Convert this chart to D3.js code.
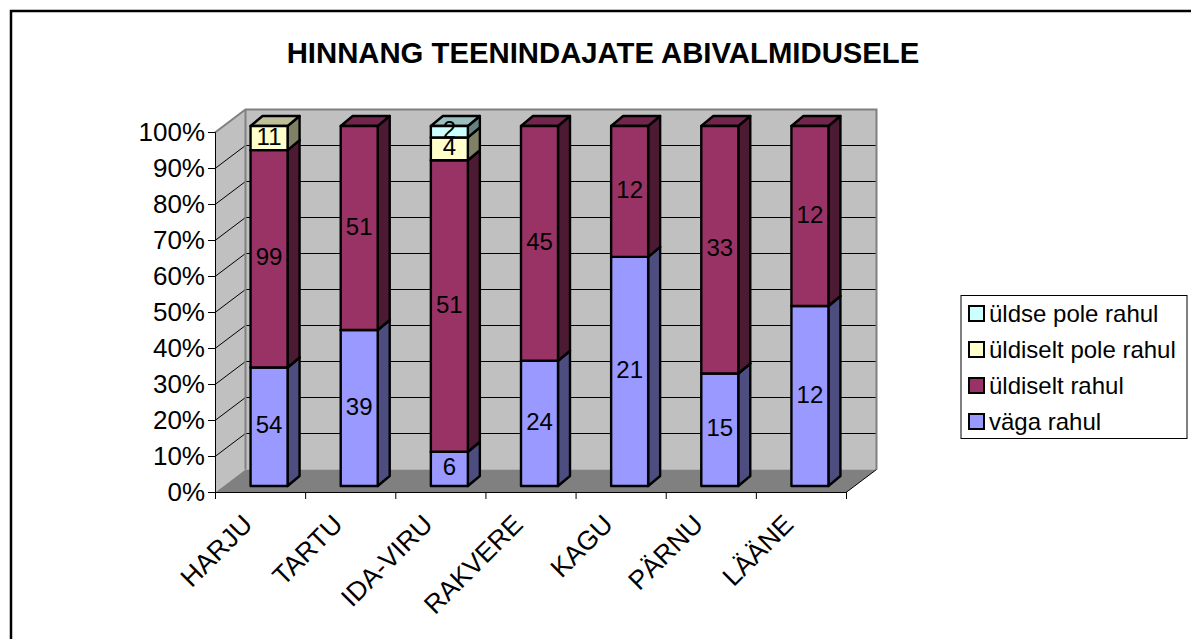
<!DOCTYPE html>
<html lang='en'>
<head>
  <meta charset='UTF-8'>
  <title>Hinnang teenindajate abivalmidusele</title>
  <script src='https://d3js.org/d3.v7.min.js'></script>
  <style>
    body { margin: 0; background: #fff; }
    svg { display: block; }
    text { font-family: 'Liberation Sans', Arial, sans-serif; fill: #000; }
  </style>
</head>
<body>
  <svg width='1191' height='639'></svg>

  <script>
    var regions = ['HARJU', 'TARTU', 'IDA-VIRU', 'RAKVERE', 'KAGU', 'PÄRNU', 'LÄÄNE'];
    var seriesNames = ['väga rahul', 'üldiselt rahul', 'üldiselt pole rahul', 'üldse pole rahul'];
    var vagaRahul = [54, 39, 6, 24, 21, 15, 12];
    var uldiseltRahul = [99, 51, 51, 45, 12, 33, 12];
    var uldiseltPole = [11, 0, 4, 0, 0, 0, 0];
    var uldsePole = [0, 0, 2, 0, 0, 0, 0];
    var yTicks = [0, .1, .2, .3, .4, .5, .6, .7, .8, .9, 1];

    var front = ['#9999ff', '#993366', '#ffffcc', '#ccffff'];
    var side = ['#4d4d80', '#4d1a33', '#808066', '#668080'];
    var top_ = ['#7373bf', '#73264d', '#bfbf99', '#99bfbf'];

    var svg = d3.select('svg');

    var table = regions.map((r, i) => ({
      region: r,
      [seriesNames[0]]: vagaRahul[i],
      [seriesNames[1]]: uldiseltRahul[i],
      [seriesNames[2]]: uldiseltPole[i],
      [seriesNames[3]]: uldsePole[i],
    }));
    var stacked = d3.stack().keys(seriesNames).offset(d3.stackOffsetExpand)(table);

    var x = d3.scaleBand().domain(regions).range([215, 846]);
    var y = d3.scaleLinear().domain([0, 1]).range([492, 132]);

    // fake 3d depth of the box and of the bars inside it
    var wallDx = 30.5, wallDy = -23;
    var barDx = 12, barDy = -10, barOffX = 9, barOffY = -6, barW = 37;

    // outer frame, only top and left are visible
    svg.append('path')
      .attr('d', 'M1191,11H11V639')
      .attr('fill', 'none')
      .attr('stroke', '#000')
      .attr('stroke-width', 2.5);

    svg.append('text')
      .attr('x', 603)
      .attr('y', 63)
      .attr('text-anchor', 'middle')
      .attr('font-size', 29.3)
      .attr('font-weight', 'bold')
      .text('HINNANG TEENINDAJATE ABIVALMIDUSELE');

    var x0 = x.range()[0], x1 = x.range()[1];
    var yb = y(0) + .5, yt = y(1) + .5;

    // walls and floor
    svg.append('path')
      .attr('d', `M${x0},${yb}L${x0},${yt}L${x0 + wallDx},${yt + wallDy}L${x0 + wallDx},${yb + wallDy}Z`)
      .attr('fill', '#c0c0c0');
    svg.append('rect')
      .attr('x', x0 + wallDx).attr('y', yt + wallDy)
      .attr('width', x1 - x0).attr('height', yb - yt)
      .attr('fill', '#c0c0c0');
    svg.append('path')
      .attr('d', `M${x0},${yb}L${x0 + wallDx},${yb + wallDy}L${x1 + wallDx},${yb + wallDy}L${x1},${yb}Z`)
      .attr('fill', '#808080');

    // gridlines
    var grid = yTicks.slice(1, -1);
    svg.append('g').selectAll('path').data(grid).enter().append('path')
      .attr('d', d => `M${x0},${y(d) + .5}L${x0 + wallDx},${y(d) + .5 + wallDy}L${x1 + wallDx},${y(d) + .5 + wallDy}`)
      .attr('fill', 'none')
      .attr('stroke', '#000')
      .attr('stroke-width', 1);

    // grey edge of the walls
    svg.append('path')
      .attr('d', `M${x0},${yt}L${x0 + wallDx},${yt + wallDy}L${x1 + wallDx},${yt + wallDy}L${x1 + wallDx},${yb + wallDy}`)
      .attr('fill', 'none')
      .attr('stroke', '#808080')
      .attr('stroke-width', 2);
    svg.append('path')
      .attr('d', `M${x0 + wallDx},${yt + wallDy}V${yb + wallDy}`)
      .attr('stroke', '#808080')
      .attr('stroke-width', 2);
    svg.append('path')
      .attr('d', `M${x1},${yb}L${x1 + wallDx},${yb + wallDy}`)
      .attr('stroke', '#000')
      .attr('stroke-width', 1);

    // bars, bottom segment first
    var barLeft = r => x(r) + (x.bandwidth() - barW) / 2 + barOffX;
    var barsG = svg.append('g')
      .attr('stroke', '#000')
      .attr('stroke-width', 2.4)
      .attr('stroke-linejoin', 'round');

    regions.forEach((r, ri) => {
      stacked.forEach((s, si) => {
        var d = s[ri];
        if (d[1] - d[0] === 0) return;
        var l = barLeft(r), w = barW;
        var t = y(d[1]) + barOffY, b = y(d[0]) + barOffY;
        barsG.append('path')
          .attr('fill', side[si])
          .attr('d', `M${l + w},${t}L${l + w + barDx},${t + barDy}L${l + w + barDx},${b + barDy}L${l + w},${b}Z`);
        barsG.append('path')
          .attr('fill', top_[si])
          .attr('d', `M${l},${t}L${l + barDx},${t + barDy}L${l + w + barDx},${t + barDy}L${l + w},${t}Z`);
        barsG.append('rect')
          .attr('fill', front[si])
          .attr('x', l).attr('y', t)
          .attr('width', w).attr('height', b - t);
      });
    });

    // value labels go on top of all bars
    stacked.forEach((s, si) => {
      svg.append('g').selectAll('text').data(s.filter(d => d[1] - d[0] > 0)).enter().append('text')
        .attr('x', d => barLeft(d.data.region) + barW / 2)
        .attr('y', d => y((d[0] + d[1]) / 2) + barOffY - 2)
        .attr('dy', '0.36em')
        .attr('text-anchor', 'middle')
        .attr('font-size', 24)
        .text(d => d.data[s.key]);
    });

    // y axis
    var yAxis = svg.append('g')
      .attr('transform', `translate(${x0},0)`)
      .call(d3.axisLeft(y).tickValues(yTicks).tickFormat(d3.format('.0%')).tickSize(7).tickPadding(3));
    yAxis.selectAll('text').attr('font-size', 26).attr('font-family', null);
    yAxis.select('.domain').attr('stroke-width', 1);

    // x axis: the ticks sit between the categories
    var xTickScale = d3.scaleLinear().domain([0, regions.length]).range(x.range());
    svg.append('g')
      .attr('transform', `translate(0,${y(0)})`)
      .call(d3.axisBottom(xTickScale).tickValues(d3.range(regions.length + 1)).tickFormat('').tickSize(7).tickSizeOuter(0));

    var xAxis = svg.append('g')
      .attr('transform', `translate(0,${y(0)})`)
      .call(d3.axisBottom(x).tickSize(0));
    xAxis.select('.domain').remove();
    xAxis.attr('font-family', null);
    xAxis.selectAll('text')
      .attr('font-size', 26.5)
      .attr('text-anchor', 'end')
      .attr('dy', 0)
      .attr('y', 0)
      .attr('transform', 'translate(-6,34) rotate(-45)');

    // legend
    var legend = svg.append('g');
    legend.append('rect')
      .attr('x', 961).attr('y', 295.5)
      .attr('width', 226).attr('height', 143)
      .attr('fill', '#fff')
      .attr('stroke', '#000')
      .attr('stroke-width', 1);
    var legendRow = legend.selectAll('g').data(seriesNames.slice().reverse()).enter().append('g')
      .attr('transform', (d, i) => `translate(969,${306 + i * 36})`);
    legendRow.append('rect')
      .attr('width', 15).attr('height', 15)
      .attr('fill', d => front[seriesNames.indexOf(d)])
      .attr('stroke', '#000')
      .attr('stroke-width', 2);
    legendRow.append('text')
      .attr('x', 20)
      .attr('y', 15.5)
      .attr('font-size', 24)
      .text(d => d);
  </script>
</body>
</html>
